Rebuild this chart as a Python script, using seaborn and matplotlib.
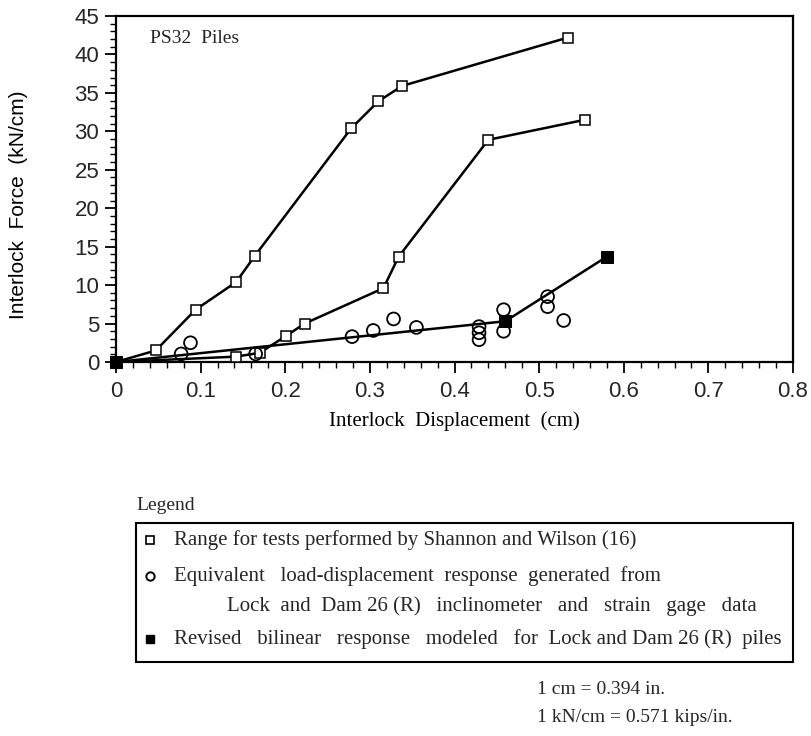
import matplotlib
matplotlib.use("Agg")
import matplotlib.pyplot as plt
import seaborn as sns
import pandas as pd
from matplotlib.patches import Rectangle
from matplotlib.ticker import MultipleLocator

# ---- data ----
upper_x = [0.0, 0.047, 0.094, 0.142, 0.164, 0.278, 0.310, 0.338, 0.534]
upper_y = [0.0, 1.5, 6.8, 10.4, 13.8, 30.4, 33.9, 35.9, 42.2]

lower_x = [0.0, 0.142, 0.170, 0.201, 0.223, 0.316, 0.334, 0.440, 0.554]
lower_y = [0.0, 0.7, 1.2, 3.4, 5.0, 9.6, 13.7, 28.9, 31.5]

circ_x = [0.077, 0.088, 0.165, 0.279, 0.304, 0.328, 0.355, 0.429, 0.429, 0.429,
          0.458, 0.458, 0.510, 0.510, 0.529]
circ_y = [1.05, 2.5, 1.05, 3.3, 4.1, 5.6, 4.5, 4.6, 3.8, 2.9,
          6.8, 4.0, 8.5, 7.2, 5.4]

bilin_x = [0.0, 0.46, 0.58]
bilin_y = [0.0, 5.3, 13.7]

x_ticks = [0, 0.1, 0.2, 0.3, 0.4, 0.5, 0.6, 0.7, 0.8]
x_tick_labels = ["0", "0.1", "0.2", "0.3", "0.4", "0.5", "0.6", "0.7", "0.8"]
y_ticks = [0, 5, 10, 15, 20, 25, 30, 35, 40, 45]

legend_lines = [
    "Range for tests performed by Shannon and Wilson (16)",
    "Equivalent   load-displacement  response  generated  from",
    "Lock  and  Dam 26 (R)   inclinometer   and   strain   gage   data",
    "Revised   bilinear   response   modeled   for  Lock and Dam 26 (R)  piles",
]

sns.set_theme(style="white")
plt.rcParams["font.family"] = ["Liberation Sans", "DejaVu Sans"]

W, H = 811, 736
fig = plt.figure(figsize=(W / 100, H / 100), dpi=100)
ax = fig.add_axes([116 / W, 1 - 362 / H, (793 - 116) / W, (362 - 16) / H])

df_u = pd.DataFrame({"x": upper_x, "y": upper_y})
df_l = pd.DataFrame({"x": lower_x, "y": lower_y})
df_c = pd.DataFrame({"x": circ_x, "y": circ_y})
df_b = pd.DataFrame({"x": bilin_x, "y": bilin_y})

for d in (df_u, df_l):
    sns.lineplot(data=d, x="x", y="y", ax=ax, sort=False, estimator=None,
                 color="black", lw=1.8, marker="s", markersize=7.5,
                 markerfacecolor="white", markeredgecolor="black",
                 markeredgewidth=1.1, zorder=3)
sns.lineplot(data=df_b, x="x", y="y", ax=ax, sort=False, estimator=None,
             color="black", lw=1.8, marker="s", markersize=8.5,
             markerfacecolor="black", markeredgecolor="black", zorder=4)
sns.scatterplot(data=df_c, x="x", y="y", ax=ax, marker="o", s=85,
                facecolors="none", edgecolor="black", linewidth=1.3, zorder=5)

ax.set_xlim(0, 0.8)
ax.set_ylim(0, 45)
ax.set_xticks(x_ticks)
ax.set_xticklabels(x_tick_labels)
ax.set_yticks(y_ticks)
ax.xaxis.set_minor_locator(MultipleLocator(0.02))
ax.yaxis.set_minor_locator(MultipleLocator(1))
ax.tick_params(which="major", direction="out", length=8, width=1.3,
               labelsize=16, color="black", pad=4, bottom=True, left=True)
ax.tick_params(which="minor", direction="out", length=4, width=1.0,
               color="black", bottom=True, left=True)
ax.tick_params(axis="x", which="major", pad=6)
for s in ax.spines.values():
    s.set_color("black")
    s.set_linewidth(1.6)
    s.set_visible(True)
ax.set_facecolor("white")
ax.grid(False)
for m in ax.get_lines():
    m.set_clip_on(False)
for c in ax.collections:
    c.set_clip_on(False)

ax.set_xlabel("Interlock  Displacement  (cm)", family=["Liberation Serif"],
              fontsize=15, labelpad=6, color="black")
ax.set_ylabel("Interlock  Force  (kN/cm)", fontsize=15, labelpad=10,
              color="black")
ax.yaxis.set_label_coords(-0.13, 0.455)
ax.text(0.05, 0.935, "PS32  Piles", transform=ax.transAxes,
        family=["Liberation Serif"], fontsize=14, va="center", ha="left")

# ---- legend panel (pixel coordinate overlay) ----
ov = fig.add_axes([0, 0, 1, 1], zorder=-1)
ov.set_xlim(0, W)
ov.set_ylim(H, 0)
ov.axis("off")
serif = ["Liberation Serif"]
ov.text(136, 506, "Legend", family=serif, fontsize=14, va="center", ha="left")
ov.add_patch(Rectangle((136, 523), 793 - 136, 662 - 523, fill=False,
                       ec="black", lw=1.5))
ov.plot([150], [540], marker="s", ms=5.5, mfc="white", mec="black", mew=1.2)
ov.plot([150], [576], marker="o", ms=6, mfc="white", mec="black", mew=1.4)
ov.plot([150], [639], marker="s", ms=6, mfc="black", mec="black")
ov.text(174, 540, legend_lines[0], family=serif, fontsize=15, va="center")
ov.text(174, 576, legend_lines[1], family=serif, fontsize=15, va="center")
ov.text(227, 606, legend_lines[2], family=serif, fontsize=15, va="center")
ov.text(174, 639, legend_lines[3], family=serif, fontsize=15, va="center")

ov.text(537, 690, "1 cm = 0.394 in.", family=serif, fontsize=14, va="center")
ov.text(537, 717, "1 kN/cm = 0.571 kips/in.", family=serif, fontsize=14,
        va="center")

fig.savefig("out.png", dpi=100, facecolor="white")
